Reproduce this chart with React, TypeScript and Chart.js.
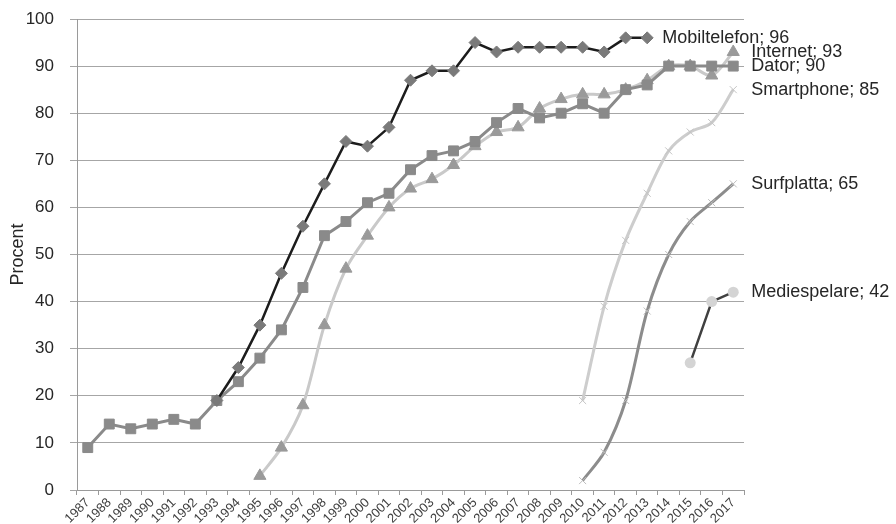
import React, { useEffect, useRef } from "react";
import { Chart, registerables } from "chart.js";

Chart.register(...registerables);

const years: string[] = [
  "1987","1988","1989","1990","1991","1992","1993","1994","1995","1996",
  "1997","1998","1999","2000","2001","2002","2003","2004","2005","2006",
  "2007","2008","2009","2010","2011","2012","2013","2014","2015","2016","2017",
];

const yTicks: number[] = [0, 10, 20, 30, 40, 50, 60, 70, 80, 90, 100];

const N = null;

const mobiltelefon: (number | null)[] = [
  N, N, N, N, N, N, 19, 26, 35, 46, 56, 65, 74, 73, 77, 87, 89, 89, 95, 93,
  94, 94, 94, 94, 93, 96, 96, N, N, N, N,
];

const dator: (number | null)[] = [
  9, 14, 13, 14, 15, 14, 19, 23, 28, 34, 43, 54, 57, 61, 63, 68, 71, 72, 74, 78,
  81, 79, 80, 82, 80, 85, 86, 90, 90, 90, 90,
];

const internet: (number | null)[] = [
  N, N, N, N, N, N, N, N, 3, 9, 18, 35, 47, 54, 60, 64, 66, 69, 73, 76,
  77, 81, 83, 84, 84, 85, 87, 90, 90, 88, 93,
];

const smartphone: (number | null)[] = [
  N, N, N, N, N, N, N, N, N, N, N, N, N, N, N, N, N, N, N, N,
  N, N, N, 19, 39, 53, 63, 72, 76, 78, 85,
];

const surfplatta: (number | null)[] = [
  N, N, N, N, N, N, N, N, N, N, N, N, N, N, N, N, N, N, N, N,
  N, N, N, 2, 8, 19, 38, 50, 57, 61, 65,
];

const mediespelare: (number | null)[] = [
  N, N, N, N, N, N, N, N, N, N, N, N, N, N, N, N, N, N, N, N,
  N, N, N, N, N, N, N, N, 27, 40, 42,
];

const seriesNames: string[] = [
  "Mobiltelefon", "Dator", "Internet", "Smartphone", "Surfplatta", "Mediespelare",
];

const FONT = "'Liberation Sans', Arial, sans-serif";

const endLabelPlugin = {
  id: "endLabels",
  afterDatasetsDraw(chart: any) {
    const ctx = chart.ctx;
    ctx.save();
    ctx.font = `18px ${FONT}`;
    ctx.fillStyle = "#262626";
    ctx.textBaseline = "middle";
    ctx.textAlign = "left";
    chart.data.datasets.forEach((ds: any, i: number) => {
      const meta = chart.getDatasetMeta(i);
      let last = -1;
      for (let k = ds.data.length - 1; k >= 0; k--) {
        if (ds.data[k] !== null && ds.data[k] !== undefined) { last = k; break; }
      }
      if (last < 0) return;
      const pt = meta.data[last];
      const off = i === 0 ? 15 : 18;
      ctx.fillText(`${ds.label}; ${ds.data[last]}`, pt.x + off, pt.y);
    });
    ctx.restore();
  },
};

export default function App() {
  const ref = useRef<HTMLCanvasElement | null>(null);

  useEffect(() => {
    if (!ref.current) return;
    const chart = new Chart(ref.current, {
      type: "line",
      data: {
        labels: years,
        datasets: [
          {
            label: seriesNames[0],
            data: mobiltelefon,
            borderColor: "#1c1c1c",
            borderWidth: 2.5,
            pointStyle: "rectRot",
            pointRadius: 6,
            pointBackgroundColor: "#7a7a7a",
            pointBorderColor: "#7a7a7a",
            pointBorderWidth: 1,
            tension: 0,
          },
          {
            label: seriesNames[1],
            data: dator,
            borderColor: "#8a8a8a",
            borderWidth: 3,
            pointStyle: "rect",
            pointRadius: 7,
            pointBackgroundColor: "#8a8a8a",
            pointBorderColor: "#8a8a8a",
            pointBorderWidth: 1,
            tension: 0,
          },
          {
            label: seriesNames[2],
            data: internet,
            borderColor: "#c9c9c9",
            borderWidth: 3,
            pointStyle: "triangle",
            pointRadius: 7,
            pointBackgroundColor: "#9a9a9a",
            pointBorderColor: "#9a9a9a",
            pointBorderWidth: 1,
            tension: 0.3,
          },
          {
            label: seriesNames[3],
            data: smartphone,
            borderColor: "#cdcdcd",
            borderWidth: 3,
            pointStyle: "crossRot",
            pointRadius: 5,
            pointBackgroundColor: "#c4c4c4",
            pointBorderColor: "#c4c4c4",
            pointBorderWidth: 1,
            tension: 0.3,
          },
          {
            label: seriesNames[4],
            data: surfplatta,
            borderColor: "#8c8c8c",
            borderWidth: 3,
            pointStyle: "crossRot",
            pointRadius: 5,
            pointBackgroundColor: "#bdbdbd",
            pointBorderColor: "#bdbdbd",
            pointBorderWidth: 1,
            tension: 0.3,
          },
          {
            label: seriesNames[5],
            data: mediespelare,
            borderColor: "#404040",
            borderWidth: 2.5,
            pointStyle: "circle",
            pointRadius: 5.5,
            pointBackgroundColor: "#d4d4d4",
            pointBorderColor: "#d4d4d4",
            pointBorderWidth: 0,
            tension: 0,
          },
        ],
      },
      options: {
        responsive: false,
        animation: false,
        spanGaps: false,
        layout: { padding: { top: 19, right: 152, bottom: 0, left: 0 } },
        plugins: {
          legend: { display: false },
          tooltip: { enabled: false },
        },
        scales: {
          x: {
            type: "category",
            offset: true,
            afterFit: (s: any) => { s.height = 34; s.paddingLeft = 0; s.paddingRight = 0; },
            grid: {
              offset: true,
              drawOnChartArea: false,
              drawTicks: true,
              tickLength: 5,
              color: "#9a9a9a",
            },
            border: { color: "#9a9a9a", width: 1 },
            ticks: {
              autoSkip: false,
              minRotation: 45,
              maxRotation: 45,
              padding: 0,
              color: "#404040",
              font: { family: FONT, size: 13 },
            },
          },
          y: {
            min: 0,
            max: 100,
            afterFit: (s: any) => { s.width = 77; s.paddingTop = 0; s.paddingBottom = 0; },
            afterBuildTicks: (s: any) => { s.ticks = yTicks.map((v) => ({ value: v })); },
            grid: {
              color: "#a6a6a6",
              tickLength: 7,
              lineWidth: 1,
            },
            border: { color: "#9a9a9a", width: 1 },
            ticks: {
              padding: 16,
              color: "#262626",
              font: { family: FONT, size: 17 },
            },
            title: {
              display: true,
              text: "Procent",
              color: "#262626",
              font: { family: FONT, size: 18 },
              padding: { top: 7, bottom: 0 },
            },
          },
        },
      },
      plugins: [endLabelPlugin],
    });
    return () => chart.destroy();
  }, []);

  return (
    <div style={{ position: "absolute", left: 0, top: 0, width: 896, height: 524, background: "#fff" }}>
      <canvas ref={ref} width={896} height={524} />
    </div>
  );
}
